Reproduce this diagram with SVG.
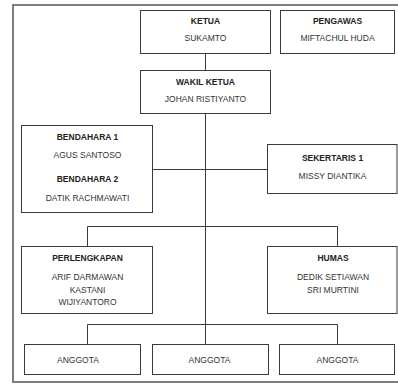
<svg xmlns="http://www.w3.org/2000/svg" width="398" height="385" viewBox="0 0 398 385">
<style>
.box{fill:#fff;stroke:#3a3a3a;stroke-width:1}
.h{font-family:"Liberation Sans",Arial,sans-serif;font-size:8.5px;font-weight:bold;fill:#222;text-anchor:middle}
.t{font-family:"Liberation Sans",Arial,sans-serif;font-size:8.5px;fill:#333;text-anchor:middle}
.c{fill:none;stroke:#3a3a3a;stroke-width:1}
</style>
<rect x="0" y="0" width="398" height="385" fill="#fff"/>
<rect x="13" y="5" width="390" height="377" fill="none" stroke="#707070" stroke-width="1.8"/>
<g id="connectors">
<line class="c" x1="205.5" y1="53.5" x2="205.5" y2="70.5"/>
<line class="c" x1="205.5" y1="113.5" x2="205.5" y2="344.5"/>
<line class="c" x1="152.5" y1="169.5" x2="267.5" y2="169.5"/>
<path class="c" d="M87.5 246.5V226.5H337.5V246.5"/>
<path class="c" d="M87.5 344.5V324.5H337.5V344.5"/>
</g>
<g id="ketua">
<rect class="box" x="140.5" y="10.5" width="130" height="43"/>
<text class="h" x="205.5" y="23.7">KETUA</text>
<text class="t" x="205.5" y="41.3">SUKAMTO</text>
</g>
<g id="pengawas">
<rect class="box" x="280.5" y="10.5" width="114" height="43"/>
<text class="h" x="337.5" y="23.7">PENGAWAS</text>
<text class="t" x="337.5" y="41.3">MIFTACHUL HUDA</text>
</g>
<g id="wakil">
<rect class="box" x="140.5" y="70.5" width="130" height="43"/>
<text class="h" x="205.5" y="84.7">WAKIL KETUA</text>
<text class="t" x="205.5" y="102.3">JOHAN RISTIYANTO</text>
</g>
<g id="bendahara">
<rect class="box" x="21.5" y="125.5" width="131" height="87"/>
<text class="h" x="87.5" y="140.3">BENDAHARA 1</text>
<text class="t" x="87.5" y="158">AGUS SANTOSO</text>
<text class="h" x="87.5" y="182">BENDAHARA 2</text>
<text class="t" x="87.5" y="200.7">DATIK RACHMAWATI</text>
</g>
<g id="sekertaris">
<rect class="box" x="267.5" y="144.5" width="129.5" height="49"/>
<text class="h" x="332.5" y="160.7">SEKERTARIS 1</text>
<text class="t" x="332.5" y="179">MISSY DIANTIKA</text>
</g>
<g id="perlengkapan">
<rect class="box" x="21.5" y="246.5" width="131" height="67"/>
<text class="h" x="87.5" y="261.3">PERLENGKAPAN</text>
<text class="t" x="87.5" y="280.3">ARIF DARMAWAN</text>
<text class="t" x="87.5" y="293">KASTANI</text>
<text class="t" x="87.5" y="304.7">WIJIYANTORO</text>
</g>
<g id="humas">
<rect class="box" x="267.5" y="246.5" width="129.5" height="67"/>
<text class="h" x="333" y="261.3">HUMAS</text>
<text class="t" x="333" y="280.3">DEDIK SETIAWAN</text>
<text class="t" x="333" y="293">SRI MURTINI</text>
</g>
<g id="anggota1">
<rect class="box" x="24.5" y="344.5" width="116" height="30"/>
<text class="t" x="78" y="363">ANGGOTA</text>
</g>
<g id="anggota2">
<rect class="box" x="152.5" y="344.5" width="116" height="30"/>
<text class="t" x="209.5" y="363">ANGGOTA</text>
</g>
<g id="anggota3">
<rect class="box" x="279.5" y="344.5" width="115" height="30"/>
<text class="t" x="337.5" y="363">ANGGOTA</text>
</g>
</svg>
